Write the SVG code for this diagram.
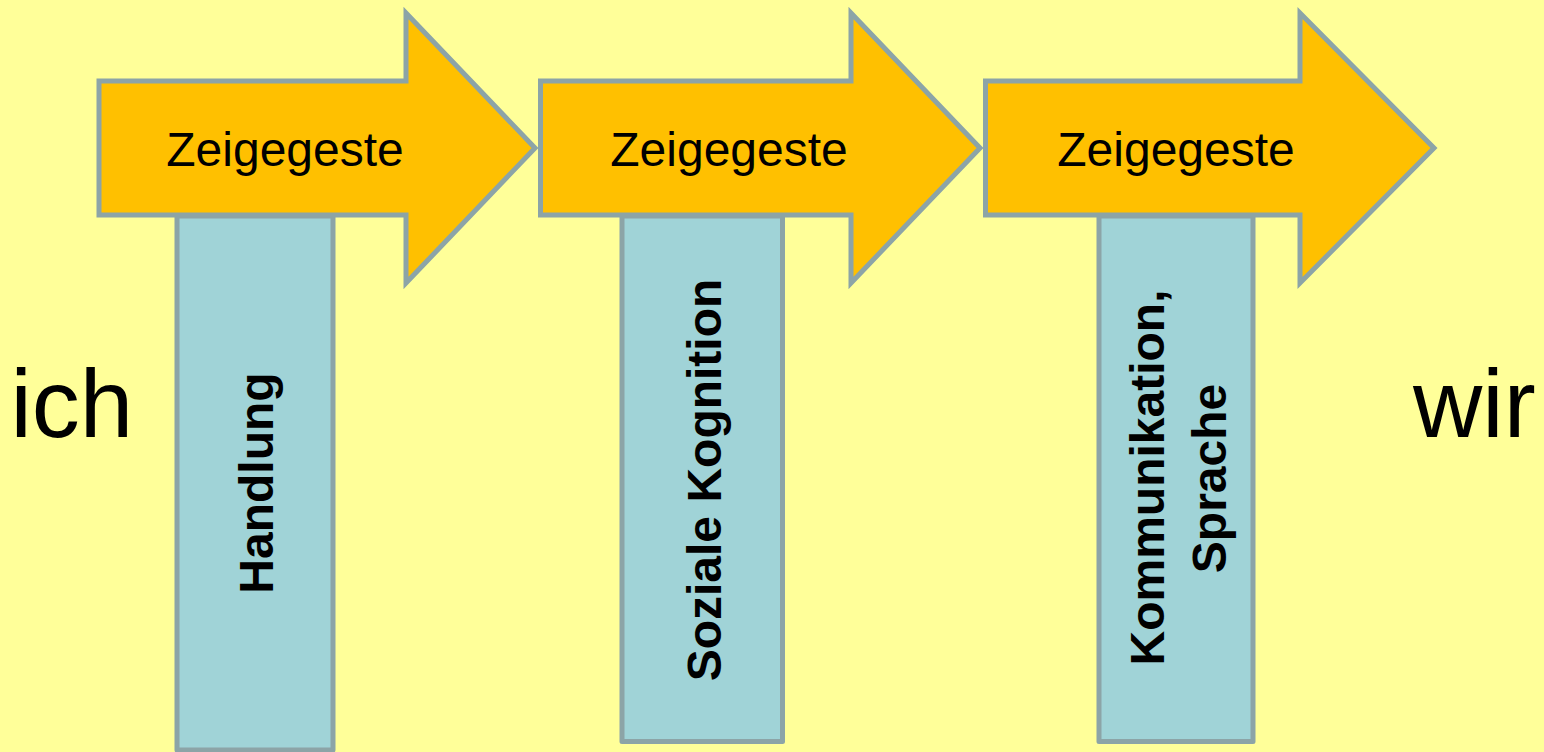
<svg xmlns="http://www.w3.org/2000/svg" width="1544" height="752" viewBox="0 0 1544 752">
<style>
.bar{fill:#A0D3D7;stroke:#8CA4A7;stroke-width:5;stroke-linejoin:round}
.arr{fill:#FFC000;stroke:#8CA4A7;stroke-width:5;stroke-linejoin:miter}
.lbl{font-family:"Liberation Sans",Arial,sans-serif;font-size:48px;fill:#000}
.vt{font-family:"Liberation Sans",Arial,sans-serif;font-size:48px;font-weight:bold;fill:#000;text-anchor:middle}
.big{font-family:"Liberation Sans",Arial,sans-serif;font-size:96px;fill:#000}
</style>
<rect width="1544" height="752" fill="#FFFF99"/>
<g id="bar1"><rect class="bar" x="177" y="216" width="156" height="534"/><text class="vt" transform="translate(273,483) rotate(-90)">Handlung</text></g>
<g id="bar2"><rect class="bar" x="622" y="216" width="160.5" height="525.5"/><text class="vt" transform="translate(721,480) rotate(-90)">Soziale Kognition</text></g>
<g id="bar3"><rect class="bar" x="1099" y="216" width="154" height="525.5"/><text class="vt" transform="translate(1164,477.5) rotate(-90)">Kommunikation,</text><text class="vt" transform="translate(1226,478.5) rotate(-90)">Sprache</text></g>
<g id="arrow1"><path class="arr" d="M99,81 H406 V13 L535,148 L406,283 V215 H99 Z"/><text class="lbl" x="285" y="166" text-anchor="middle">Zeigegeste</text></g>
<g id="arrow2"><path class="arr" d="M540.5,81 H851 V13 L980,148 L851,283 V215 H540.5 Z"/><text class="lbl" x="729" y="166" text-anchor="middle">Zeigegeste</text></g>
<g id="arrow3"><path class="arr" d="M985.5,81 H1300 V13 L1434,148 L1300,283 V215 H985.5 Z"/><text class="lbl" x="1176" y="166" text-anchor="middle">Zeigegeste</text></g>
<g id="ich"><text class="big" x="10.5" y="437">ich</text></g>
<g id="wir"><text class="big" x="1413" y="437">wir</text></g>
<g id="connectors"></g>
</svg>
